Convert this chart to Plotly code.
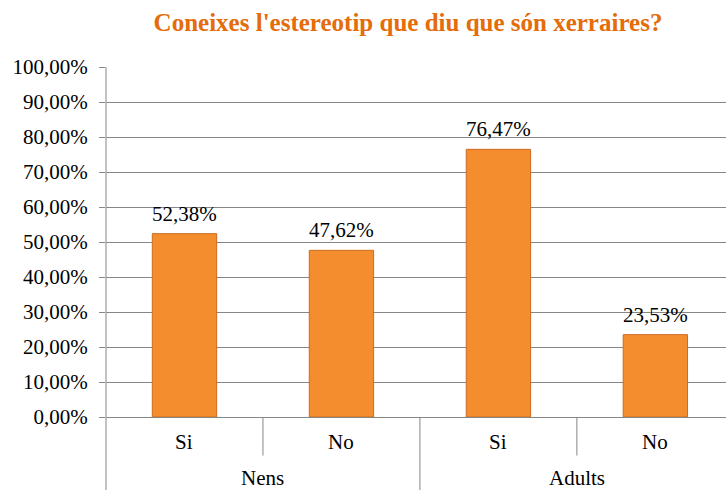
import plotly.graph_objects as go

title = "Coneixes l'estereotip que diu que són xerraires?"
groups = ["Nens", "Adults"]
answers = ["Si", "No"]
values = [0.5238, 0.4762, 0.7647, 0.2353]  # Nens Si, Nens No, Adults Si, Adults No
y_ticks = [i / 10 for i in range(11)]

n_sub = len(answers)
labels = [a for g in groups for a in answers]
xs = list(range(len(labels)))

FONT = "Times New Roman, Liberation Serif, DejaVu Serif, serif"
GRID = "#868686"

fig = go.Figure()
fig.add_trace(go.Bar(
    x=xs, y=values, width=0.41,
    marker=dict(color="#F48D2D", line=dict(color="#CD6B20", width=1)),
    hoverinfo="skip",
))

shapes = []
shapes.append(dict(type="line", xref="paper", yref="paper", x0=0, x1=0, y0=1, y1=-0.21,
                   line=dict(color=GRID, width=1)))
for i in range(1, len(labels)):
    full = (i % n_sub == 0)
    shapes.append(dict(type="line", xref="x", yref="paper", x0=i - 0.5, x1=i - 0.5,
                       y0=0, y1=-0.21 if full else -0.11,
                       line=dict(color=GRID, width=1)))

annotations = []
for i, v in enumerate(values):
    annotations.append(dict(x=i, y=v, xref="x", yref="y",
                            text=f"{v * 100:.2f}%".replace(".", ","), showarrow=False,
                            yshift=20, yanchor="middle",
                            font=dict(family=FONT, size=21, color="#000000")))
for i, lab in enumerate(labels):
    annotations.append(dict(x=i, y=0, xref="x", yref="paper", text=lab, showarrow=False,
                            yshift=-25, yanchor="middle",
                            font=dict(family=FONT, size=21, color="#000000")))
for gi, g in enumerate(groups):
    annotations.append(dict(x=gi * n_sub + (n_sub - 1) / 2, y=0, xref="x", yref="paper", text=g,
                            showarrow=False, yshift=-61, yanchor="middle",
                            font=dict(family=FONT, size=21, color="#000000")))

fig.update_layout(
    width=726, height=490,
    margin=dict(l=106, r=0, t=67, b=73, autoexpand=False),
    paper_bgcolor="white", plot_bgcolor="white",
    separators=",.",
    showlegend=False,
    font=dict(family=FONT),
    title=dict(text="<b>" + title + "</b>", x=0.562, xanchor="center", y=1 - 22 / 490,
               yanchor="middle", yref="container",
               font=dict(family=FONT, size=25, color="#E46C0A")),
    shapes=shapes, annotations=annotations,
)
fig.update_xaxes(range=[-0.5, 3.45], showticklabels=False, showgrid=False, zeroline=False,
                 showline=True, linecolor=GRID, linewidth=1, ticks="", automargin=False)
fig.update_yaxes(range=[0, 1], tickvals=y_ticks, tickformat=".2%", showgrid=True,
                 gridcolor=GRID, gridwidth=1, zeroline=False, showline=False,
                 ticks="outside", ticklen=6, tickcolor=GRID, automargin=False,
                 ticklabelstandoff=7,
                 tickfont=dict(family=FONT, size=21, color="#000000"))

fig.write_html("out.html", config={"displayModeBar": False},
               post_script="document.body.style.margin='0';document.body.style.padding='0';")
